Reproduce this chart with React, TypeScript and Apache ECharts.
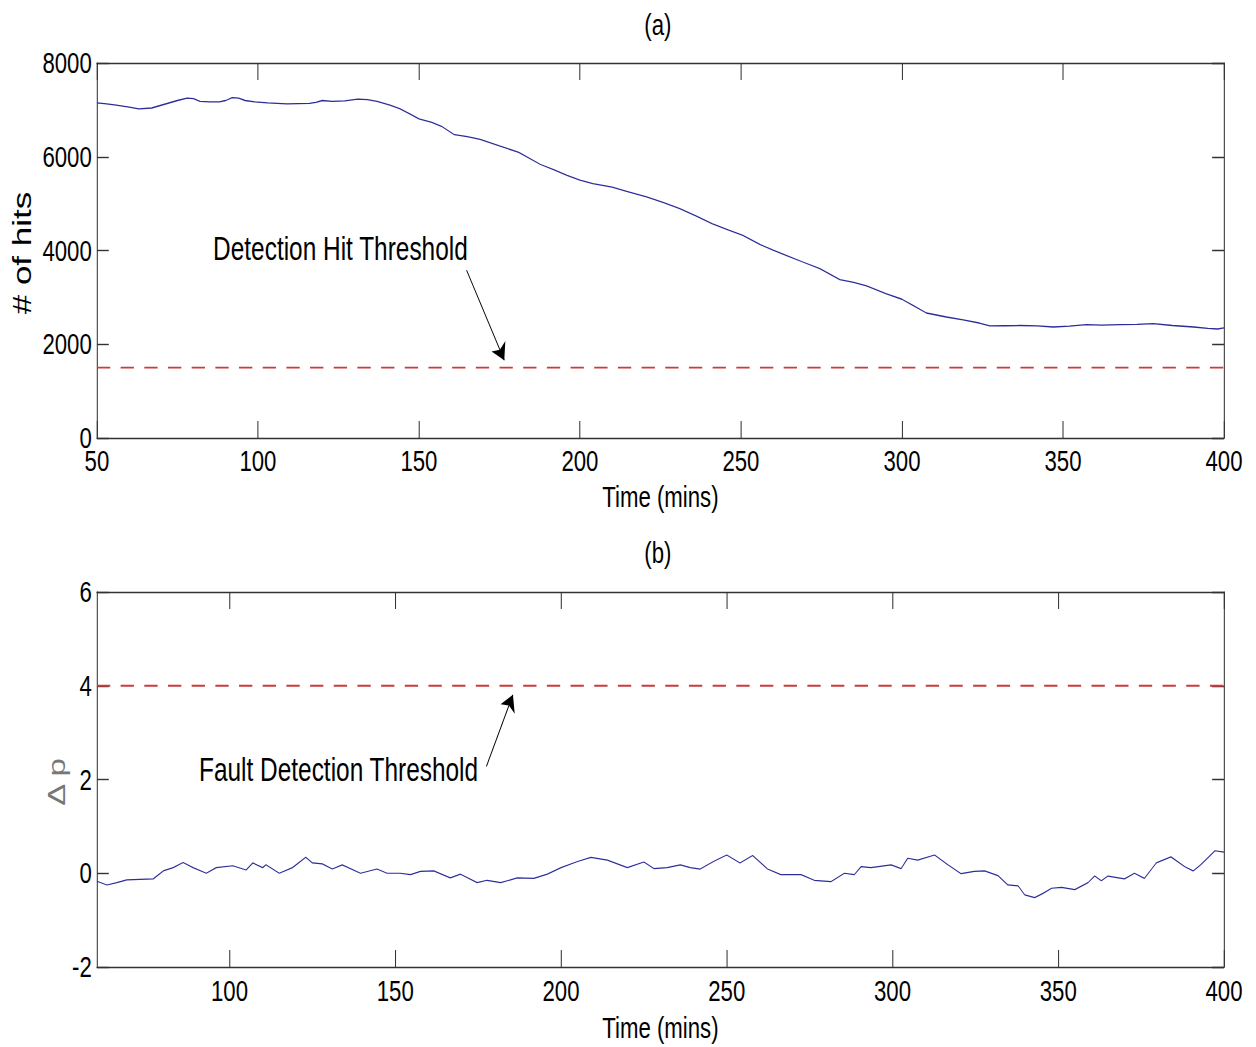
import React, { useEffect, useRef } from "react";
import * as echarts from "echarts";

// ---------- data ----------
const hitsTime = [50, 53, 56, 60, 63, 67, 71, 75, 78, 80, 82, 85, 88, 90, 92, 94, 96, 99, 103, 109, 116, 118, 120, 123, 127, 131, 134, 137, 141, 144, 147, 150, 154, 157, 161, 165, 169, 175, 181, 187.6, 192, 196, 200, 204, 210, 214.5, 220.7, 226, 231, 236, 241, 246, 250.6, 256, 260, 264, 269, 274.5, 280.7, 285, 289, 295, 300, 303.4, 307.6, 313.8, 319, 324, 327.3, 332, 336.6, 342, 347, 352, 357.3, 362, 367.7, 373, 378, 384, 390.6, 395, 398, 400];
const hitsValues = [7150, 7130, 7100, 7060, 7020, 7040, 7120, 7200, 7250, 7240, 7180, 7170, 7170, 7200, 7260, 7250, 7200, 7170, 7150, 7130, 7140, 7160, 7200, 7180, 7190, 7230, 7220, 7180, 7100, 7025, 6920, 6806, 6735, 6650, 6470, 6430, 6370, 6230, 6095, 5840, 5720, 5605, 5500, 5427, 5350, 5263, 5142, 5020, 4894, 4740, 4574, 4440, 4324, 4126, 4010, 3898, 3760, 3614, 3379, 3320, 3243, 3080, 2960, 2831, 2667, 2581, 2520, 2453, 2390, 2395, 2400, 2390, 2368, 2385, 2419, 2410, 2419, 2425, 2440, 2400, 2368, 2340, 2325, 2350];

const dpTime = [60, 63, 66, 69, 73, 77, 80, 83, 86, 89, 93, 96, 101, 105, 107, 110, 111, 115, 119, 123, 125, 128, 131, 134, 139.5, 144.5, 147.5, 151.5, 154.6, 157.6, 161.6, 166.6, 169.7, 174.7, 177.7, 181.8, 186.8, 191.8, 195.9, 200, 205, 209, 214, 220, 225, 228, 232, 236, 239, 242, 246, 250, 254, 257.8, 262.3, 266.3, 272.4, 276.4, 281.4, 285.5, 288.5, 290.5, 293.5, 299.6, 302.6, 304.6, 307.6, 312.7, 316.7, 320.7, 324.7, 327.8, 331.8, 334.8, 337.9, 339.9, 342.9, 345.4, 348, 351, 355, 359, 361, 363, 365, 370, 373, 376, 379.6, 384, 388.2, 390.7, 393, 397.3, 400];
const dpValues = [-0.17, -0.25, -0.2, -0.14, -0.13, -0.12, 0.05, 0.12, 0.23, 0.12, 0.0, 0.12, 0.16, 0.07, 0.22, 0.12, 0.18, 0.0, 0.12, 0.34, 0.22, 0.2, 0.09, 0.18, 0.0, 0.09, 0.0, 0.0, -0.03, 0.04, 0.05, -0.1, -0.02, -0.2, -0.15, -0.2, -0.1, -0.11, -0.02, 0.12, 0.25, 0.34, 0.28, 0.12, 0.24, 0.1, 0.12, 0.18, 0.12, 0.09, 0.25, 0.39, 0.22, 0.38, 0.09, -0.03, -0.03, -0.15, -0.18, 0.0, -0.03, 0.14, 0.12, 0.18, 0.1, 0.32, 0.28, 0.39, 0.18, -0.01, 0.04, 0.05, -0.05, -0.25, -0.27, -0.46, -0.52, -0.43, -0.32, -0.3, -0.35, -0.2, -0.06, -0.16, -0.06, -0.12, 0.0, -0.11, 0.22, 0.35, 0.14, 0.05, 0.18, 0.48, 0.45];

const hitThreshold = 1500;
const faultThreshold = 4;

const topXTicks = [50, 100, 150, 200, 250, 300, 350, 400];
const bottomXTicks = [100, 150, 200, 250, 300, 350, 400];
const topYTicks = [0, 2000, 4000, 6000, 8000];
const bottomYTicks = [-2, 0, 2, 4, 6];

const titleA = "(a)";
const titleB = "(b)";
const xName = "Time (mins)";
const yNameA = "# of hits";
const yNameB = "\u0394 p";
const noteA = "Detection Hit Threshold";
const noteB = "Fault Detection Threshold";

// arrows in data coordinates: [from, to]
const arrowA = [[164.8, 3578], [176.5, 1658]];
const arrowB = [[177.5, 2.28], [185.5, 3.81]];

// ---------- layout ----------
const S = 0.74; // horizontal squeeze of the original figure
const W = Math.round(1256 / S);
const H = 1047;
const FONT = "'Liberation Sans', Arial, sans-serif";
const AXIS_COLOR = "#333";
const LINE_BLUE = "#2c2c9a";
const RED = "#cc3b3b";

function zip(a: number[], b: number[]) {
  return a.map((t, i) => [t, b[i]]);
}

const plain = (v: number) => String(v);

function xAxes(gridIndex: number, min: number, max: number, ticks: number[], labelMargin: number, nameGap: number) {
  const common = {
    type: "value",
    gridIndex,
    min,
    max,
    splitLine: { show: false },
    axisLine: { show: true, onZero: false, lineStyle: { color: AXIS_COLOR, width: 1.4 } },
    axisTick: { show: true, inside: true, length: 17, customValues: ticks, lineStyle: { color: AXIS_COLOR, width: 1.4 } },
  };
  return [
    {
      ...common,
      position: "bottom",
      name: xName,
      nameLocation: "middle",
      nameGap,
      nameTextStyle: { fontSize: 30, fontFamily: FONT, color: "#000" },
      axisLabel: { show: true, customValues: ticks, formatter: plain, margin: labelMargin, fontSize: 30, fontFamily: FONT, color: "#000", showMinLabel: true, showMaxLabel: true },
    },
    {
      ...common,
      position: "top",
      axisLabel: { show: false },
    },
  ];
}

function yAxes(gridIndex: number, min: number, max: number, ticks: number[]) {
  const common = {
    type: "value",
    gridIndex,
    min,
    max,
    splitLine: { show: false },
    axisLine: { show: true, onZero: false, lineStyle: { color: AXIS_COLOR, width: 1.4 } },
    axisTick: { show: true, inside: true, length: 16, customValues: ticks, lineStyle: { color: AXIS_COLOR, width: 1.4 } },
  };
  return [
    {
      ...common,
      position: "left",
      axisLabel: { show: true, customValues: ticks, formatter: plain, margin: 7, fontSize: 30, fontFamily: FONT, color: "#000", showMinLabel: true, showMaxLabel: true },
    },
    {
      ...common,
      position: "right",
      axisLabel: { show: false },
    },
  ];
}

function arrowMarkLine(a: number[][]) {
  return {
    silent: true,
    symbol: ["none", "arrow"],
    symbolSize: 16,
    label: { show: false },
    emphasis: { disabled: true },
    lineStyle: { color: "#000", width: 1.2, type: "solid" },
    data: [[{ coord: a[0] }, { coord: a[1] }]],
  };
}

export default function App() {
  const ref = useRef<HTMLDivElement>(null);

  useEffect(() => {
    if (!ref.current) return;
    const chart = echarts.init(ref.current, undefined, { renderer: "svg" });
    const option = {
      animation: false,
      backgroundColor: "#fff",
      grid: [
        { left: 131, top: 63, width: 1523, height: 375, containLabel: false },
        { left: 131, top: 592, width: 1523, height: 375, containLabel: false },
      ],
      xAxis: [...xAxes(0, 50, 400, topXTicks, 8, 44), ...xAxes(1, 60, 400, bottomXTicks, 9, 46)],
      yAxis: [...yAxes(0, 0, 8000, topYTicks), ...yAxes(1, -2, 6, bottomYTicks)],
      series: [
        {
          type: "line",
          xAxisIndex: 0,
          yAxisIndex: 0,
          data: zip(hitsTime, hitsValues),
          showSymbol: false,
          lineStyle: { color: LINE_BLUE, width: 1.3 },
          markLine: arrowMarkLine(arrowA),
        },
        {
          type: "line",
          xAxisIndex: 0,
          yAxisIndex: 0,
          data: [[50, hitThreshold], [400, hitThreshold]],
          showSymbol: false,
          lineStyle: { color: RED, width: 1.8, type: [18, 14] },
        },
        {
          type: "line",
          xAxisIndex: 2,
          yAxisIndex: 2,
          data: zip(dpTime, dpValues),
          showSymbol: false,
          lineStyle: { color: LINE_BLUE, width: 1.2 },
          markLine: arrowMarkLine(arrowB),
        },
        {
          type: "line",
          xAxisIndex: 2,
          yAxisIndex: 2,
          data: [[60, faultThreshold], [400, faultThreshold]],
          showSymbol: false,
          lineStyle: { color: RED, width: 1.8, type: [18, 14] },
        },
      ],
      graphic: [
        { type: "text", x: 889, y: 25, style: { text: titleA, fontSize: 30, fontFamily: FONT, fill: "#000", align: "center", verticalAlign: "middle" } },
        { type: "text", x: 889, y: 553, style: { text: titleB, fontSize: 30, fontFamily: FONT, fill: "#000", align: "center", verticalAlign: "middle" } },
        { type: "text", x: 30, y: 253, rotation: Math.PI / 2, style: { text: yNameA, fontSize: 35, fontFamily: FONT, fill: "#000", align: "center", verticalAlign: "middle" } },
        { type: "text", x: 77, y: 782, rotation: Math.PI / 2, style: { text: yNameB, fontSize: 33, fontFamily: FONT, fill: "#777", align: "center", verticalAlign: "middle" } },
        { type: "text", x: 288, y: 249, style: { text: noteA, fontSize: 33, fontFamily: FONT, fill: "#000", align: "left", verticalAlign: "middle" } },
        { type: "text", x: 269, y: 770, style: { text: noteB, fontSize: 33, fontFamily: FONT, fill: "#000", align: "left", verticalAlign: "middle" } },
      ],
    };
    chart.setOption(option as any);
    return () => chart.dispose();
  }, []);

  return (
    <div style={{ position: "fixed", left: 0, top: 0, width: 1256, height: H, overflow: "hidden", background: "#fff" }}>
      <div ref={ref} style={{ width: W, height: H, transform: `scaleX(${S})`, transformOrigin: "0 0" }} />
    </div>
  );
}
